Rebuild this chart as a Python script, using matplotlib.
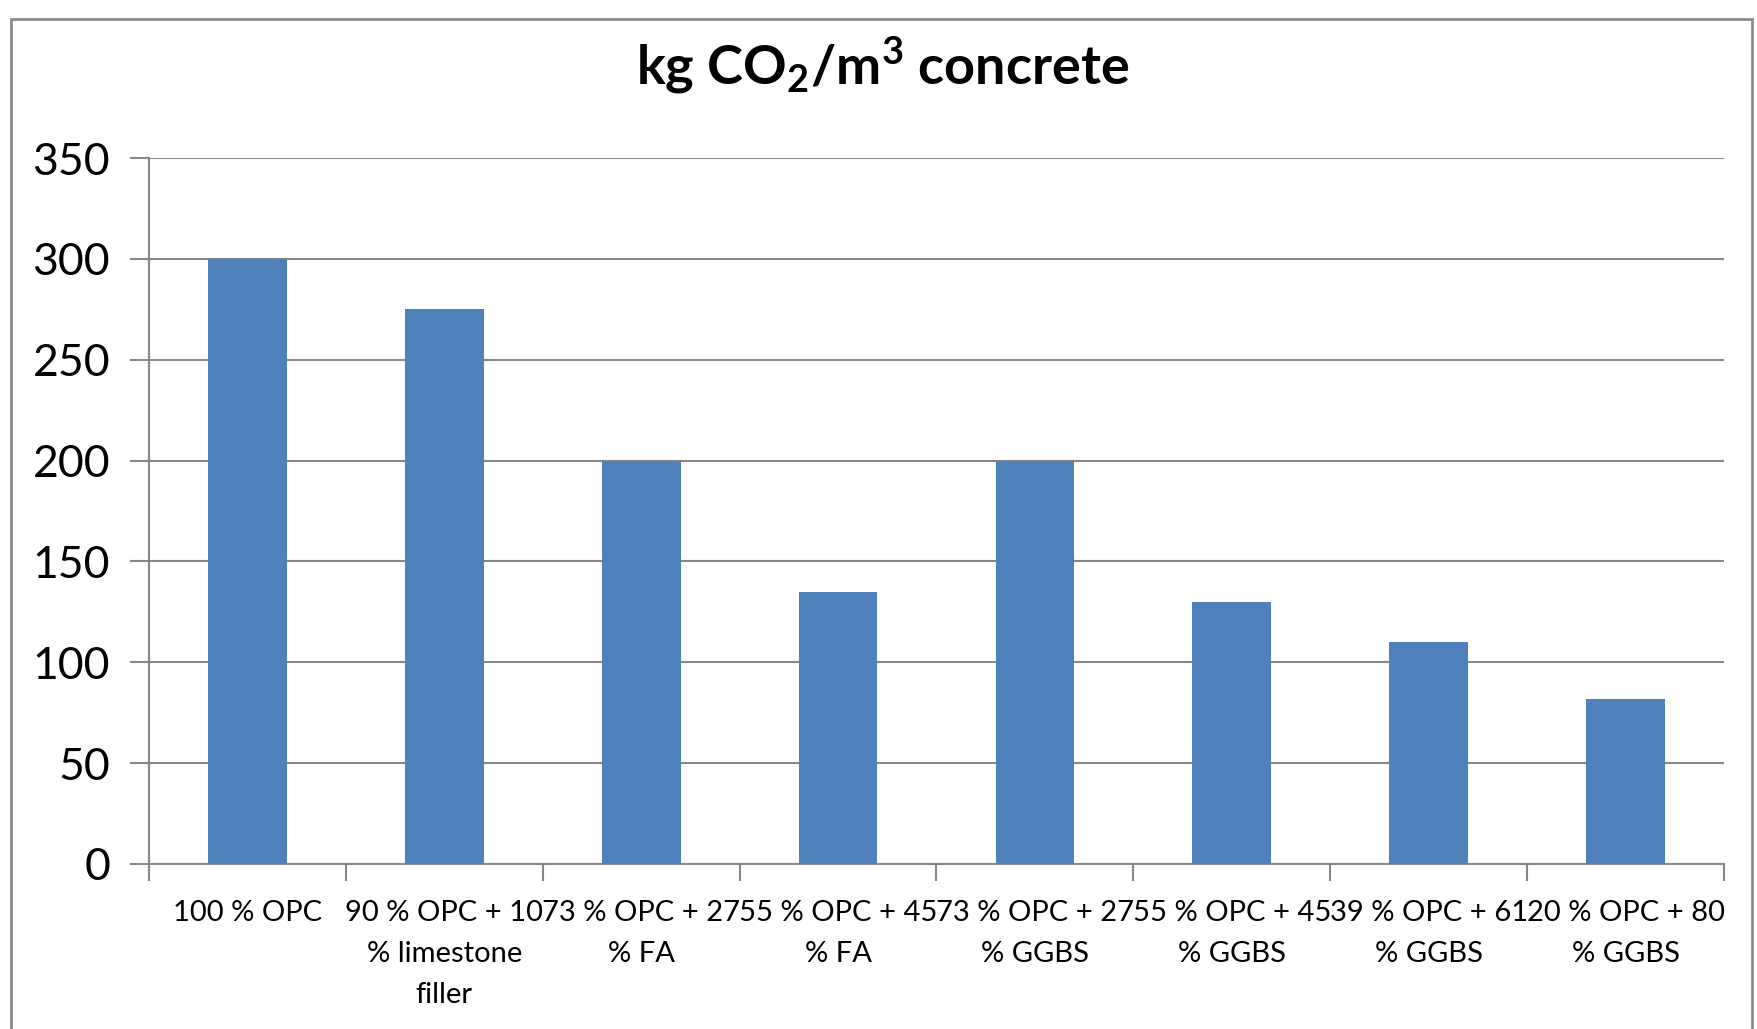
import matplotlib
matplotlib.use("Agg")
import matplotlib.pyplot as plt
from matplotlib.patches import Rectangle
import numpy as np

categories = [
    "100 % OPC",
    "90 % OPC + 10\n% limestone\nfiller",
    "73 % OPC + 27\n% FA",
    "55 % OPC + 45\n% FA",
    "73 % OPC + 27\n% GGBS",
    "55 % OPC + 45\n% GGBS",
    "39 % OPC + 61\n% GGBS",
    "20 % OPC + 80\n% GGBS",
]
values = [300, 275, 200, 135, 200, 130, 110, 82]
yticks = [0, 50, 100, 150, 200, 250, 300, 350]

plt.rcParams['font.family'] = ['Lato', 'DejaVu Sans']
plt.rcParams['mathtext.default'] = 'regular'

W, H = 1758, 1029
fig = plt.figure(figsize=(W / 100, H / 100), dpi=100)
ax = fig.add_axes([149 / W, 1 - 864 / H, (1724 - 149) / W, (864 - 158) / H])

grid_c = '#878787'
x = np.arange(len(values))
ax.bar(x, values, width=0.4, color='#4F81BD', zorder=3)
ax.set_xlim(-0.5, len(values) - 0.5)
ax.set_ylim(0, 350)
ax.set_yticks(yticks)
ax.set_yticklabels([str(v) for v in yticks], fontsize=32)
ax.yaxis.grid(True, color=grid_c, linewidth=1.5, zorder=0)

ax.set_xticks(np.arange(-0.5, len(values), 1.0))
ax.set_xticklabels([])
ax.set_xticks(x, minor=True)
ax.set_xticklabels(categories, minor=True, fontsize=21, linespacing=1.7)
ax.tick_params(axis='x', which='minor', length=0, pad=26)
ax.tick_params(axis='x', which='major', length=12, width=1.5, color=grid_c, direction='out')
ax.tick_params(axis='y', length=14, width=1.5, color=grid_c, direction='out', pad=14)

for s in ['top', 'right']:
    ax.spines[s].set_visible(False)
for s in ['left', 'bottom']:
    ax.spines[s].set_color(grid_c)
    ax.spines[s].set_linewidth(1.5)

fig.text(0.502, 1 - 66 / H, r'kg CO$_2$/m$^3$ concrete', ha='center', va='center',
         fontsize=39, fontweight='bold')

fig.patches.append(Rectangle((11 / W, -0.05), (1752 - 11) / W, 1 - 19 / H + 0.05,
                             transform=fig.transFigure, fill=False,
                             edgecolor='#8c8c8c', linewidth=2))

fig.savefig('out.png', dpi=100)
